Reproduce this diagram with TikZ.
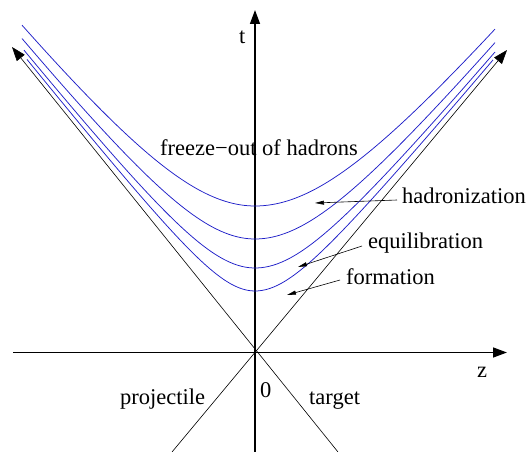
\documentclass[tikz,border=0pt]{standalone}
\usepackage{fontspec}
\setmainfont{Liberation Serif}
\usetikzlibrary{arrows.meta}
\tikzset{
  axis/.style={line width=1.5pt,-{Triangle[length=14pt,width=10pt]}},
  cone/.style={line width=0.6pt},
  conearrow/.style={line width=0.6pt,-{Triangle[length=14pt,width=10pt]}},
  curve/.style={line width=0.75pt,color={rgb,255:red,30;green,30;blue,200}},
  lbl/.style={anchor=base west,inner sep=0pt,font=\fontsize{22.5}{27}\selectfont},
  pointer/.style={line width=0.6pt,-{Triangle[length=9pt,width=4pt]}}
}
\begin{document}
\begin{tikzpicture}[x=1pt,y=-1pt]
\useasboundingbox (0,0) rectangle (528,452);
% axes
\coordinate (O) at (255,352);
\coordinate (zl) at (13,352.5);
\coordinate (zr) at (507,352.5);
\coordinate (tb) at (255,452);
\coordinate (tt) at (255,10);
\draw[axis] (zl) -- (zr);
\draw[axis] (tb) -- (tt);
% light cone
\coordinate (cA0) at (338,452);
\coordinate (cA1) at (12,47);
\coordinate (cB0) at (172,452);
\coordinate (cB1) at (507,50);
\draw[conearrow] (cA0) -- (cA1);
\draw[conearrow] (cB0) -- (cB1);
% hyperbolae
\foreach \tau/\xl/\xr in {1.46/22/495, 1.13/22/495, 0.84/24/495, 0.61/27/493}{
  \draw[curve] plot[domain=\xl:\xr,samples=120,smooth]
    (\x,{352-100*sqrt(\tau*\tau+(((\x<255)?1.255:1.2)*(\x-255)/100)^2)});
}
% labels
\node[lbl] (t) at (239,44) {t};
\node[lbl] (z) at (477,377) {z};
\node[lbl] (zero) at (260,397) {0};
\node[lbl] (proj) at (120,404) {projectile};
\node[lbl] (targ) at (309,404) {target};
\node[lbl] (fo) at (160,155) {freeze−out of hadrons};
\node[lbl] (had) at (402,203) {hadronization};
\node[lbl] (equ) at (368,248) {equilibration};
\node[lbl] (form) at (346,284) {formation};
\coordinate (hadtip) at (315,203);
\coordinate (equtip) at (298,267);
\coordinate (formtip) at (287,295);
\draw[pointer] (397,200) -- (hadtip);
\draw[pointer] (362,246) -- (equtip);
\draw[pointer] (340,280) -- (formtip);
\end{tikzpicture}
\end{document}
